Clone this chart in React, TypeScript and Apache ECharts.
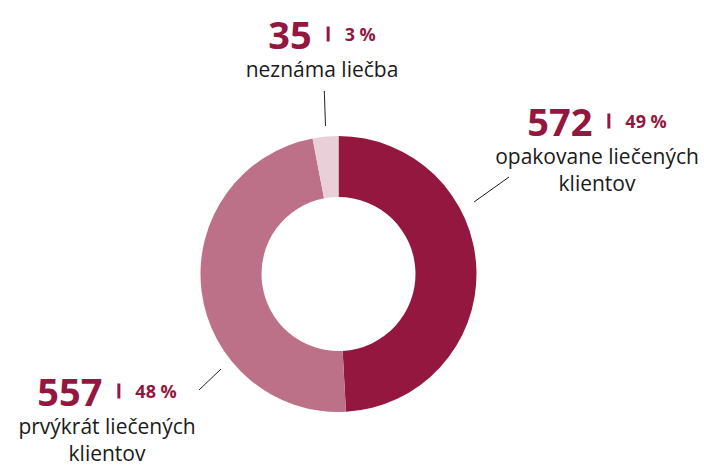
import React, { useEffect, useRef } from "react";
import * as echarts from "echarts";

const categories = [
  "opakovane liečených\nklientov",
  "prvýkrát liečených\nklientov",
  "neznáma liečba",
];
const values = [572, 557, 35];

const sliceColors = ["#93173F", "#BD7189", "#E9CFD7"];
const labelAnchors = [
  [597, 100],
  [107, 370],
  [322, 13],
];
const leaderLines = [
  [
    [474, 202],
    [509, 177],
  ],
  [
    [199, 390],
    [221, 369],
  ],
  [
    [325.5, 126],
    [324.3, 91],
  ],
];

const FONT = "'Open Sans', 'Noto Sans', sans-serif";
const ACCENT = "#93173F";

export default function App() {
  const ref = useRef<HTMLDivElement>(null);
  useEffect(() => {
    document.body.style.margin = "0";
    const chart = echarts.init(ref.current!, null, { renderer: "svg" });
    chart.setOption({
      animation: false,
      series: [
        {
          type: "pie",
          center: [338.5, 274],
          radius: [77, 138],
          startAngle: 90,
          clockwise: true,
          avoidLabelOverlap: false,
          silent: true,
          percentPrecision: 0,
          emphasis: { disabled: true },
          itemStyle: { borderWidth: 0 },
          data: values.map((v, i) => ({
            value: v,
            name: categories[i],
            itemStyle: { color: sliceColors[i] },
          })),
          label: {
            show: true,
            position: "outside",
            fontFamily: FONT,
            formatter: (p: any) => {
              const nameLines = String(p.name)
                .split("\n")
                .map((s: string) => `{name|${s}}`)
                .join("\n");
              return `{num|${p.value}}{gap| }{sep| }{gap| }{pct|${p.percent} %}\n${nameLines}`;
            },
            rich: {
              num: {
                fontFamily: FONT,
                fontSize: 38,
                fontWeight: "bold",
                color: ACCENT,
                lineHeight: 42,
              },
              gap: {
                fontSize: 10,
                width: 15,
                lineHeight: 42,
              },
              sep: {
                fontSize: 10,
                width: 3,
                height: 15,
                backgroundColor: ACCENT,
                lineHeight: 42,
              },
              pct: {
                fontFamily: FONT,
                fontSize: 18,
                fontWeight: "bold",
                color: ACCENT,
                lineHeight: 42,
              },
              name: {
                fontFamily: FONT,
                fontSize: 21,
                color: "#1a1a1a",
                lineHeight: 27,
              },
            },
          },
          labelLine: {
            show: true,
            lineStyle: { color: "#222", width: 1 },
          },
          labelLayout: (params: any) => {
            const i = params.dataIndex;
            return {
              x: labelAnchors[i][0],
              y: labelAnchors[i][1],
              align: "center",
              verticalAlign: "top",
              labelLinePoints: leaderLines[i],
            };
          },
        },
      ],
    });
    return () => chart.dispose();
  }, []);
  return <div ref={ref} style={{ width: 704, height: 466 }} />;
}
